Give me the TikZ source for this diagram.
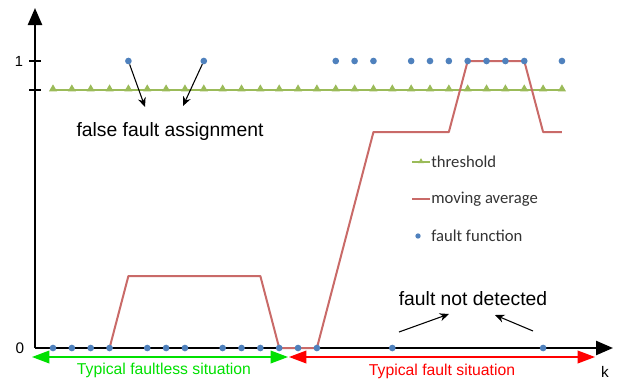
\documentclass[tikz,border=0pt]{standalone}
\usepackage{fontspec}
\setmainfont{Liberation Sans}
\newfontfamily\legfont{Carlito}
\usetikzlibrary{arrows.meta,shapes.geometric}
\definecolor{ffblue}{HTML}{4F81BD}
\definecolor{mared}{HTML}{C0504D}
\definecolor{thgreen}{HTML}{9BBB59}
\definecolor{okgreen}{HTML}{00E000}
\definecolor{badred}{HTML}{FF0000}
\begin{document}
\begin{tikzpicture}[x=0.75pt,y=-0.75pt,
  dot/.style={circle,fill=ffblue,inner sep=0pt,minimum size=5pt},
  tri/.style={regular polygon,regular polygon sides=3,fill=thgreen,inner sep=0pt,minimum size=7pt},
  thr/.style={thgreen,line width=1.5pt},
  ma/.style={mared!85,line width=1.5pt,line join=round},
  axis/.style={line width=1.8pt,-{Triangle[length=12.75pt,width=10.5pt]}},
  note/.style={-{Stealth[length=7pt,width=6pt]},line width=0.8pt},
  span/.style={line width=1.1pt,{Triangle[length=13pt,width=9.5pt]}-{Triangle[length=13pt,width=9.5pt]}},
  lbl/.style={font=\fontsize{14.5pt}{16pt}\selectfont,inner sep=0pt},
  sit/.style={font=\fontsize{11.8pt}{13pt}\selectfont,inner sep=0pt},
  leg/.style={font=\legfont\fontsize{12.5pt}{14pt}\selectfont,text=black!80,inner sep=0pt,anchor=west}
]
\useasboundingbox (0,0) rectangle (638,382);
% axes
\coordinate (O) at (35,348);
\coordinate (ytop) at (35,8);
\coordinate (xend) at (613,348);
\draw[axis] (O) -- (ytop);
\draw[axis] (O) -- (xend);
\draw[line width=0.8pt] (29,61) -- (41,61);
\draw[line width=0.8pt] (29,90) -- (41,90);
\node[font=\fontsize{11pt}{13pt}\selectfont,inner sep=0pt] (one) at (19,61) {1};
\node[font=\fontsize{11.5pt}{13pt}\selectfont,inner sep=0pt] (zero) at (20,348) {0};
\node[font=\fontsize{11.5pt}{13pt}\selectfont,inner sep=0pt] (k) at (605,372) {k};
% threshold
\draw[thr] (53,90) -- (562,90);
\foreach \i in {0,...,27} \node[tri] at ({53+18.85*\i},89) {};
% moving average
\draw[ma] ({53+18.85*3},348) -- ({53+18.85*4},276) -- ({53+18.85*11},276)
  -- ({53+18.85*12},348) -- ({53+18.85*14},348) -- ({53+18.85*17},132)
  -- ({53+18.85*21},132) -- ({53+18.85*22},61) -- ({53+18.85*25},61)
  -- ({53+18.85*26},132) -- ({53+18.85*27},132);
% fault function
\foreach \i/\v in {0/0,1/0,2/0,3/0,4/1,5/0,6/0,7/0,8/1,9/0,10/0,11/0,12/0,13/0,
  14/0,15/1,16/1,17/1,18/0,19/1,20/1,21/1,22/1,23/1,24/1,25/1,26/0,27/1}
  \node[dot] (p\i) at ({53+18.85*\i},{348-287*\v}) {};
% false fault assignment
\node[lbl] (ffa) at (170,131) {false fault assignment};
\coordinate (a1) at (145,107);
\coordinate (a2) at (183,106);
\draw[note] (p4) -- (a1);
\draw[note] (p8) -- (a2);
% fault not detected
\node[lbl] (fnd) at (473,299) {fault not detected};
\coordinate (b1s) at (399,332);
\coordinate (b1) at (449,314);
\coordinate (b2s) at (533,331);
\coordinate (b2) at (495,315);
\draw[note] (b1s) -- (b1);
\draw[note] (b2s) -- (b2);
% situations
\coordinate (g1) at (32,357);
\coordinate (g2) at (288,357);
\coordinate (r1) at (289,357);
\coordinate (r2) at (595,357);
\draw[span,okgreen] (g1) -- (g2);
\draw[span,badred] (r1) -- (r2);
\node[sit,text=okgreen] (tfl) at (164,370) {Typical faultless situation};
\node[sit,text=badred] (tf) at (442,371) {Typical fault situation};
% legend
\draw[thr,line width=1.2pt] (412,162) -- (430,162);
\node[tri,minimum size=5pt] at (421,161.5) {};
\node[leg] (l1) at (431,162) {threshold};
\draw[ma,line width=1.2pt] (412,199) -- (430,199);
\node[leg] (l2) at (431,199) {moving average};
\node[dot,minimum size=4pt] at (418,236) {};
\node[leg] (l3) at (431,236) {fault function};
\end{tikzpicture}
\end{document}
